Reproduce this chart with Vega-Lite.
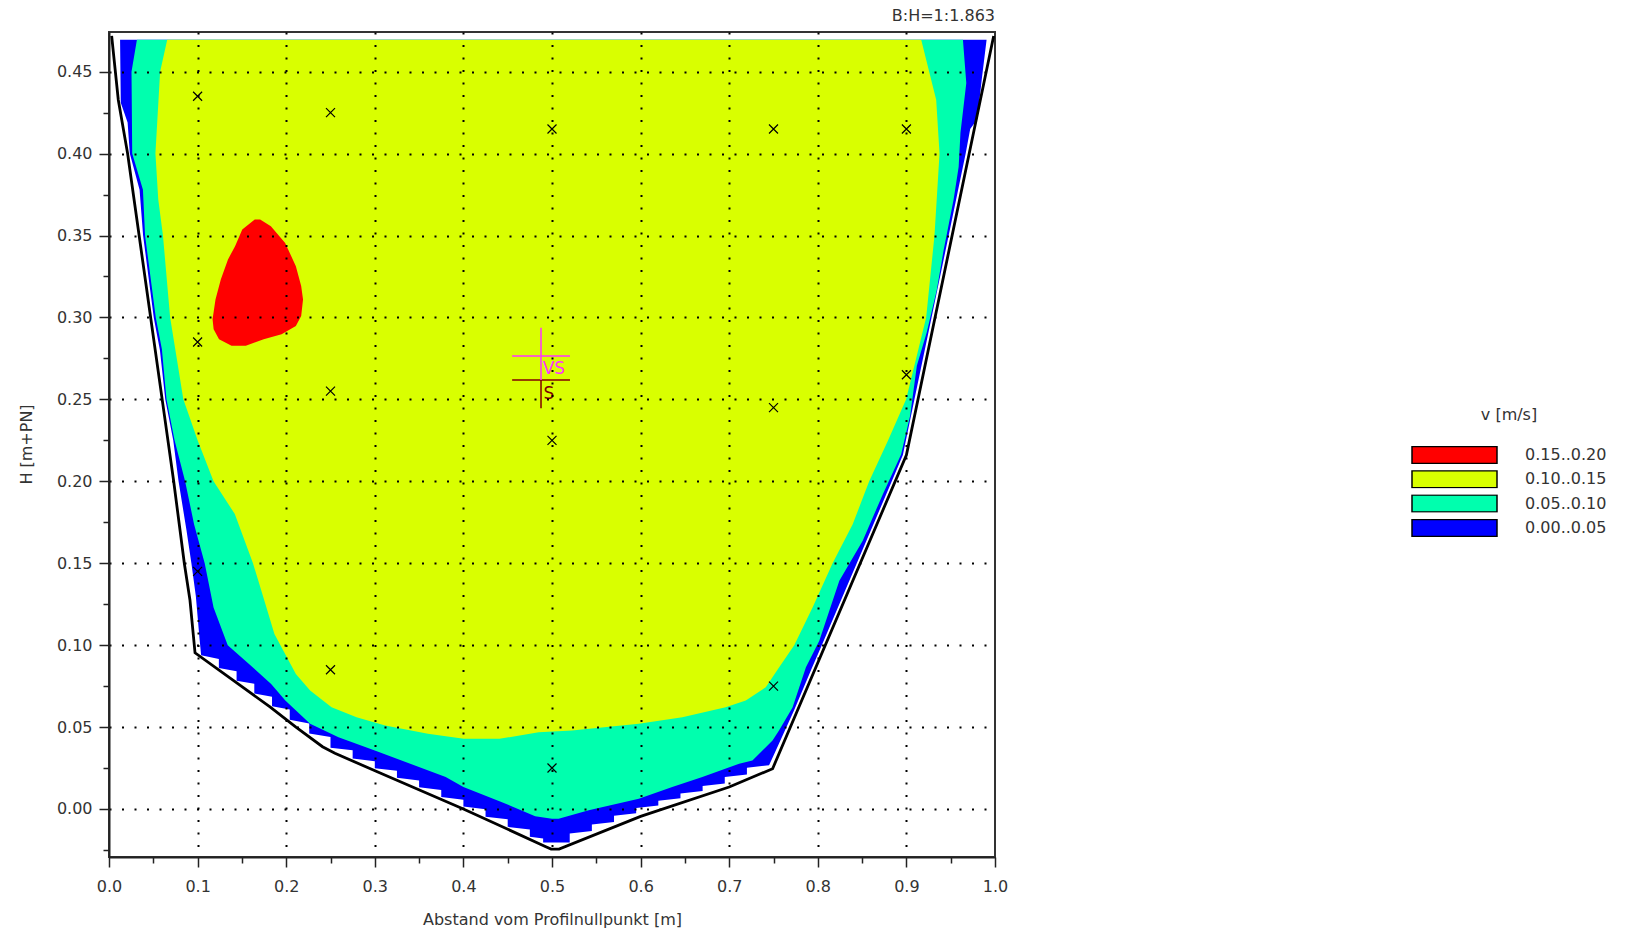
{
  "$schema": "https://vega.github.io/schema/vega-lite/v6.json",
  "width": 886,
  "height": 825,
  "autosize": {"type": "none"},
  "padding": {"left": 109, "top": 32, "right": 634, "bottom": 76},
  "background": "white",
  "title": {"text": "B:H=1:1.863", "anchor": "end", "frame": "group", "font": "DejaVu Sans", "fontSize": 16, "fontWeight": "normal", "color": "#333", "offset": 6},
  "config": {"view": {"stroke": "#333", "strokeWidth": 2}, "font": "DejaVu Sans"},
  "datasets": {
    "zones": [
      {"band": "0.00..0.05", "i": 1, "x": 0.0125, "y": 0.4695},
      {"band": "0.00..0.05", "i": 2, "x": 0.0133, "y": 0.431},
      {"band": "0.00..0.05", "i": 3, "x": 0.021, "y": 0.419},
      {"band": "0.00..0.05", "i": 4, "x": 0.0235, "y": 0.40},
      {"band": "0.00..0.05", "i": 5, "x": 0.0345, "y": 0.378},
      {"band": "0.00..0.05", "i": 6, "x": 0.0385, "y": 0.35},
      {"band": "0.00..0.05", "i": 7, "x": 0.0505, "y": 0.30},
      {"band": "0.00..0.05", "i": 8, "x": 0.0575, "y": 0.28},
      {"band": "0.00..0.05", "i": 9, "x": 0.0635, "y": 0.25},
      {"band": "0.00..0.05", "i": 10, "x": 0.0725, "y": 0.225},
      {"band": "0.00..0.05", "i": 11, "x": 0.0785, "y": 0.20},
      {"band": "0.00..0.05", "i": 12, "x": 0.0875, "y": 0.17},
      {"band": "0.00..0.05", "i": 13, "x": 0.093, "y": 0.15},
      {"band": "0.00..0.05", "i": 14, "x": 0.098, "y": 0.13},
      {"band": "0.00..0.05", "i": 15, "x": 0.102, "y": 0.105},
      {"band": "0.00..0.05", "i": 16, "x": 0.104, "y": 0.0938},
      {"band": "0.00..0.05", "i": 17, "x": 0.124, "y": 0.0915},
      {"band": "0.00..0.05", "i": 18, "x": 0.124, "y": 0.086},
      {"band": "0.00..0.05", "i": 19, "x": 0.144, "y": 0.084},
      {"band": "0.00..0.05", "i": 20, "x": 0.144, "y": 0.0783},
      {"band": "0.00..0.05", "i": 21, "x": 0.164, "y": 0.0765},
      {"band": "0.00..0.05", "i": 22, "x": 0.164, "y": 0.0705},
      {"band": "0.00..0.05", "i": 23, "x": 0.184, "y": 0.0685},
      {"band": "0.00..0.05", "i": 24, "x": 0.184, "y": 0.0627},
      {"band": "0.00..0.05", "i": 25, "x": 0.204, "y": 0.0607},
      {"band": "0.00..0.05", "i": 26, "x": 0.204, "y": 0.0544},
      {"band": "0.00..0.05", "i": 27, "x": 0.226, "y": 0.0522},
      {"band": "0.00..0.05", "i": 28, "x": 0.226, "y": 0.046},
      {"band": "0.00..0.05", "i": 29, "x": 0.25, "y": 0.044},
      {"band": "0.00..0.05", "i": 30, "x": 0.25, "y": 0.0373},
      {"band": "0.00..0.05", "i": 31, "x": 0.275, "y": 0.0358},
      {"band": "0.00..0.05", "i": 32, "x": 0.275, "y": 0.0308},
      {"band": "0.00..0.05", "i": 33, "x": 0.30, "y": 0.0292},
      {"band": "0.00..0.05", "i": 34, "x": 0.30, "y": 0.0249},
      {"band": "0.00..0.05", "i": 35, "x": 0.325, "y": 0.0233},
      {"band": "0.00..0.05", "i": 36, "x": 0.325, "y": 0.019},
      {"band": "0.00..0.05", "i": 37, "x": 0.35, "y": 0.0174},
      {"band": "0.00..0.05", "i": 38, "x": 0.35, "y": 0.0132},
      {"band": "0.00..0.05", "i": 39, "x": 0.375, "y": 0.0116},
      {"band": "0.00..0.05", "i": 40, "x": 0.375, "y": 0.0073},
      {"band": "0.00..0.05", "i": 41, "x": 0.40, "y": 0.0057},
      {"band": "0.00..0.05", "i": 42, "x": 0.40, "y": 0.0015},
      {"band": "0.00..0.05", "i": 43, "x": 0.425, "y": -0.0001},
      {"band": "0.00..0.05", "i": 44, "x": 0.425, "y": -0.0047},
      {"band": "0.00..0.05", "i": 45, "x": 0.45, "y": -0.0063},
      {"band": "0.00..0.05", "i": 46, "x": 0.45, "y": -0.0109},
      {"band": "0.00..0.05", "i": 47, "x": 0.475, "y": -0.0125},
      {"band": "0.00..0.05", "i": 48, "x": 0.475, "y": -0.017},
      {"band": "0.00..0.05", "i": 49, "x": 0.49, "y": -0.018},
      {"band": "0.00..0.05", "i": 50, "x": 0.49, "y": -0.0205},
      {"band": "0.00..0.05", "i": 51, "x": 0.52, "y": -0.0205},
      {"band": "0.00..0.05", "i": 52, "x": 0.52, "y": -0.015},
      {"band": "0.00..0.05", "i": 53, "x": 0.545, "y": -0.0135},
      {"band": "0.00..0.05", "i": 54, "x": 0.545, "y": -0.0095},
      {"band": "0.00..0.05", "i": 55, "x": 0.57, "y": -0.008},
      {"band": "0.00..0.05", "i": 56, "x": 0.57, "y": -0.0041},
      {"band": "0.00..0.05", "i": 57, "x": 0.595, "y": -0.0026},
      {"band": "0.00..0.05", "i": 58, "x": 0.595, "y": 0.0006},
      {"band": "0.00..0.05", "i": 59, "x": 0.62, "y": 0.0021},
      {"band": "0.00..0.05", "i": 60, "x": 0.62, "y": 0.0051},
      {"band": "0.00..0.05", "i": 61, "x": 0.645, "y": 0.0066},
      {"band": "0.00..0.05", "i": 62, "x": 0.645, "y": 0.0095},
      {"band": "0.00..0.05", "i": 63, "x": 0.67, "y": 0.011},
      {"band": "0.00..0.05", "i": 64, "x": 0.67, "y": 0.014},
      {"band": "0.00..0.05", "i": 65, "x": 0.695, "y": 0.0155},
      {"band": "0.00..0.05", "i": 66, "x": 0.695, "y": 0.0195},
      {"band": "0.00..0.05", "i": 67, "x": 0.72, "y": 0.021},
      {"band": "0.00..0.05", "i": 68, "x": 0.72, "y": 0.0252},
      {"band": "0.00..0.05", "i": 69, "x": 0.745, "y": 0.0267},
      {"band": "0.00..0.05", "i": 70, "x": 0.752, "y": 0.035},
      {"band": "0.00..0.05", "i": 71, "x": 0.773, "y": 0.06},
      {"band": "0.00..0.05", "i": 72, "x": 0.7925, "y": 0.085},
      {"band": "0.00..0.05", "i": 73, "x": 0.8045, "y": 0.10},
      {"band": "0.00..0.05", "i": 74, "x": 0.844, "y": 0.15},
      {"band": "0.00..0.05", "i": 75, "x": 0.8835, "y": 0.20},
      {"band": "0.00..0.05", "i": 76, "x": 0.896, "y": 0.216},
      {"band": "0.00..0.05", "i": 77, "x": 0.9091, "y": 0.25},
      {"band": "0.00..0.05", "i": 78, "x": 0.9284, "y": 0.30},
      {"band": "0.00..0.05", "i": 79, "x": 0.9477, "y": 0.35},
      {"band": "0.00..0.05", "i": 80, "x": 0.9669, "y": 0.40},
      {"band": "0.00..0.05", "i": 81, "x": 0.972, "y": 0.415},
      {"band": "0.00..0.05", "i": 82, "x": 0.98, "y": 0.421},
      {"band": "0.00..0.05", "i": 83, "x": 0.985, "y": 0.445},
      {"band": "0.00..0.05", "i": 84, "x": 0.9905, "y": 0.4695},

      {"band": "0.05..0.10", "i": 1, "x": 0.0315, "y": 0.4695},
      {"band": "0.05..0.10", "i": 2, "x": 0.0254, "y": 0.45},
      {"band": "0.05..0.10", "i": 3, "x": 0.0262, "y": 0.40},
      {"band": "0.05..0.10", "i": 4, "x": 0.0383, "y": 0.378},
      {"band": "0.05..0.10", "i": 5, "x": 0.0407, "y": 0.35},
      {"band": "0.05..0.10", "i": 6, "x": 0.0528, "y": 0.30},
      {"band": "0.05..0.10", "i": 7, "x": 0.0597, "y": 0.2806},
      {"band": "0.05..0.10", "i": 8, "x": 0.0649, "y": 0.25},
      {"band": "0.05..0.10", "i": 9, "x": 0.074, "y": 0.225},
      {"band": "0.05..0.10", "i": 10, "x": 0.0859, "y": 0.20},
      {"band": "0.05..0.10", "i": 11, "x": 0.096, "y": 0.1738},
      {"band": "0.05..0.10", "i": 12, "x": 0.108, "y": 0.15},
      {"band": "0.05..0.10", "i": 13, "x": 0.118, "y": 0.123},
      {"band": "0.05..0.10", "i": 14, "x": 0.134, "y": 0.10},
      {"band": "0.05..0.10", "i": 15, "x": 0.158, "y": 0.0885},
      {"band": "0.05..0.10", "i": 16, "x": 0.183, "y": 0.0763},
      {"band": "0.05..0.10", "i": 17, "x": 0.199, "y": 0.0662},
      {"band": "0.05..0.10", "i": 18, "x": 0.227, "y": 0.052},
      {"band": "0.05..0.10", "i": 19, "x": 0.259, "y": 0.0438},
      {"band": "0.05..0.10", "i": 20, "x": 0.30, "y": 0.0357},
      {"band": "0.05..0.10", "i": 21, "x": 0.34, "y": 0.0276},
      {"band": "0.05..0.10", "i": 22, "x": 0.38, "y": 0.0195},
      {"band": "0.05..0.10", "i": 23, "x": 0.40, "y": 0.0134},
      {"band": "0.05..0.10", "i": 24, "x": 0.4407, "y": 0.0048},
      {"band": "0.05..0.10", "i": 25, "x": 0.481, "y": -0.0044},
      {"band": "0.05..0.10", "i": 26, "x": 0.50, "y": -0.006},
      {"band": "0.05..0.10", "i": 27, "x": 0.5075, "y": -0.0059},
      {"band": "0.05..0.10", "i": 28, "x": 0.5415, "y": -0.0008},
      {"band": "0.05..0.10", "i": 29, "x": 0.598, "y": 0.0063},
      {"band": "0.05..0.10", "i": 30, "x": 0.6357, "y": 0.0134},
      {"band": "0.05..0.10", "i": 31, "x": 0.6697, "y": 0.0195},
      {"band": "0.05..0.10", "i": 32, "x": 0.7112, "y": 0.0276},
      {"band": "0.05..0.10", "i": 33, "x": 0.7262, "y": 0.0296},
      {"band": "0.05..0.10", "i": 34, "x": 0.7489, "y": 0.0418},
      {"band": "0.05..0.10", "i": 35, "x": 0.7564, "y": 0.048},
      {"band": "0.05..0.10", "i": 36, "x": 0.7715, "y": 0.062},
      {"band": "0.05..0.10", "i": 37, "x": 0.7866, "y": 0.0865},
      {"band": "0.05..0.10", "i": 38, "x": 0.8017, "y": 0.1027},
      {"band": "0.05..0.10", "i": 39, "x": 0.8243, "y": 0.1393},
      {"band": "0.05..0.10", "i": 40, "x": 0.8507, "y": 0.1637},
      {"band": "0.05..0.10", "i": 41, "x": 0.8733, "y": 0.192},
      {"band": "0.05..0.10", "i": 42, "x": 0.894, "y": 0.2164},
      {"band": "0.05..0.10", "i": 43, "x": 0.9042, "y": 0.24},
      {"band": "0.05..0.10", "i": 44, "x": 0.9118, "y": 0.2705},
      {"band": "0.05..0.10", "i": 45, "x": 0.923, "y": 0.291},
      {"band": "0.05..0.10", "i": 46, "x": 0.9344, "y": 0.317},
      {"band": "0.05..0.10", "i": 47, "x": 0.942, "y": 0.341},
      {"band": "0.05..0.10", "i": 48, "x": 0.9533, "y": 0.372},
      {"band": "0.05..0.10", "i": 49, "x": 0.959, "y": 0.392},
      {"band": "0.05..0.10", "i": 50, "x": 0.961, "y": 0.4125},
      {"band": "0.05..0.10", "i": 51, "x": 0.9676, "y": 0.443},
      {"band": "0.05..0.10", "i": 52, "x": 0.9638, "y": 0.4695},

      {"band": "0.10..0.15", "i": 1, "x": 0.0657, "y": 0.4695},
      {"band": "0.10..0.15", "i": 2, "x": 0.0577, "y": 0.45},
      {"band": "0.10..0.15", "i": 3, "x": 0.0524, "y": 0.40},
      {"band": "0.10..0.15", "i": 4, "x": 0.0556, "y": 0.372},
      {"band": "0.10..0.15", "i": 5, "x": 0.0609, "y": 0.35},
      {"band": "0.10..0.15", "i": 6, "x": 0.069, "y": 0.30},
      {"band": "0.10..0.15", "i": 7, "x": 0.0778, "y": 0.2705},
      {"band": "0.10..0.15", "i": 8, "x": 0.0839, "y": 0.25},
      {"band": "0.10..0.15", "i": 9, "x": 0.10, "y": 0.225},
      {"band": "0.10..0.15", "i": 10, "x": 0.118, "y": 0.20},
      {"band": "0.10..0.15", "i": 11, "x": 0.142, "y": 0.18},
      {"band": "0.10..0.15", "i": 12, "x": 0.1625, "y": 0.15},
      {"band": "0.10..0.15", "i": 13, "x": 0.1766, "y": 0.125},
      {"band": "0.10..0.15", "i": 14, "x": 0.1867, "y": 0.1068},
      {"band": "0.10..0.15", "i": 15, "x": 0.1988, "y": 0.0946},
      {"band": "0.10..0.15", "i": 16, "x": 0.2109, "y": 0.0824},
      {"band": "0.10..0.15", "i": 17, "x": 0.227, "y": 0.0723},
      {"band": "0.10..0.15", "i": 18, "x": 0.2512, "y": 0.0621},
      {"band": "0.10..0.15", "i": 19, "x": 0.2794, "y": 0.056},
      {"band": "0.10..0.15", "i": 20, "x": 0.3117, "y": 0.051},
      {"band": "0.10..0.15", "i": 21, "x": 0.36, "y": 0.0459},
      {"band": "0.10..0.15", "i": 22, "x": 0.4004, "y": 0.0428},
      {"band": "0.10..0.15", "i": 23, "x": 0.4407, "y": 0.0428},
      {"band": "0.10..0.15", "i": 24, "x": 0.4849, "y": 0.0469},
      {"band": "0.10..0.15", "i": 25, "x": 0.5226, "y": 0.0479},
      {"band": "0.10..0.15", "i": 26, "x": 0.598, "y": 0.052},
      {"band": "0.10..0.15", "i": 27, "x": 0.6471, "y": 0.056},
      {"band": "0.10..0.15", "i": 28, "x": 0.696, "y": 0.0621},
      {"band": "0.10..0.15", "i": 29, "x": 0.7187, "y": 0.0662},
      {"band": "0.10..0.15", "i": 30, "x": 0.7413, "y": 0.0743},
      {"band": "0.10..0.15", "i": 31, "x": 0.7564, "y": 0.0865},
      {"band": "0.10..0.15", "i": 32, "x": 0.7734, "y": 0.10},
      {"band": "0.10..0.15", "i": 33, "x": 0.7941, "y": 0.123},
      {"band": "0.10..0.15", "i": 34, "x": 0.8167, "y": 0.15},
      {"band": "0.10..0.15", "i": 35, "x": 0.8394, "y": 0.1738},
      {"band": "0.10..0.15", "i": 36, "x": 0.858, "y": 0.20},
      {"band": "0.10..0.15", "i": 37, "x": 0.879, "y": 0.2246},
      {"band": "0.10..0.15", "i": 38, "x": 0.8997, "y": 0.25},
      {"band": "0.10..0.15", "i": 39, "x": 0.9223, "y": 0.30},
      {"band": "0.10..0.15", "i": 40, "x": 0.9317, "y": 0.35},
      {"band": "0.10..0.15", "i": 41, "x": 0.9374, "y": 0.40},
      {"band": "0.10..0.15", "i": 42, "x": 0.9336, "y": 0.4328},
      {"band": "0.10..0.15", "i": 43, "x": 0.9167, "y": 0.4695},

      {"band": "0.15..0.20", "i": 1, "x": 0.1645, "y": 0.3597},
      {"band": "0.15..0.20", "i": 2, "x": 0.1504, "y": 0.3536},
      {"band": "0.15..0.20", "i": 3, "x": 0.1423, "y": 0.3435},
      {"band": "0.15..0.20", "i": 4, "x": 0.1343, "y": 0.3354},
      {"band": "0.15..0.20", "i": 5, "x": 0.1262, "y": 0.3232},
      {"band": "0.15..0.20", "i": 6, "x": 0.1202, "y": 0.311},
      {"band": "0.15..0.20", "i": 7, "x": 0.1169, "y": 0.2989},
      {"band": "0.15..0.20", "i": 8, "x": 0.1181, "y": 0.2928},
      {"band": "0.15..0.20", "i": 9, "x": 0.1242, "y": 0.2867},
      {"band": "0.15..0.20", "i": 10, "x": 0.1383, "y": 0.2827},
      {"band": "0.15..0.20", "i": 11, "x": 0.1544, "y": 0.2827},
      {"band": "0.15..0.20", "i": 12, "x": 0.1746, "y": 0.2867},
      {"band": "0.15..0.20", "i": 13, "x": 0.1948, "y": 0.2898},
      {"band": "0.15..0.20", "i": 14, "x": 0.2109, "y": 0.2948},
      {"band": "0.15..0.20", "i": 15, "x": 0.2169, "y": 0.3009},
      {"band": "0.15..0.20", "i": 16, "x": 0.219, "y": 0.311},
      {"band": "0.15..0.20", "i": 17, "x": 0.2169, "y": 0.3192},
      {"band": "0.15..0.20", "i": 18, "x": 0.2109, "y": 0.3313},
      {"band": "0.15..0.20", "i": 19, "x": 0.1988, "y": 0.3455},
      {"band": "0.15..0.20", "i": 20, "x": 0.1827, "y": 0.3557},
      {"band": "0.15..0.20", "i": 21, "x": 0.1706, "y": 0.3597}
    ],
    "bed": [
      {"i": 1, "x": 0.003, "y": 0.4718},
      {"i": 2, "x": 0.0105, "y": 0.4327},
      {"i": 3, "x": 0.021, "y": 0.40},
      {"i": 4, "x": 0.034, "y": 0.35},
      {"i": 5, "x": 0.047, "y": 0.30},
      {"i": 6, "x": 0.06, "y": 0.25},
      {"i": 7, "x": 0.073, "y": 0.20},
      {"i": 8, "x": 0.085, "y": 0.15},
      {"i": 9, "x": 0.0914, "y": 0.1274},
      {"i": 10, "x": 0.0971, "y": 0.0953},
      {"i": 11, "x": 0.1817, "y": 0.0623},
      {"i": 12, "x": 0.211, "y": 0.05},
      {"i": 13, "x": 0.241, "y": 0.038},
      {"i": 14, "x": 0.255, "y": 0.034},
      {"i": 15, "x": 0.308, "y": 0.0215},
      {"i": 16, "x": 0.40, "y": 0.0},
      {"i": 17, "x": 0.493, "y": -0.023},
      {"i": 18, "x": 0.499, "y": -0.0245},
      {"i": 19, "x": 0.508, "y": -0.0245},
      {"i": 20, "x": 0.60, "y": -0.0045},
      {"i": 21, "x": 0.70, "y": 0.0134},
      {"i": 22, "x": 0.749, "y": 0.0246},
      {"i": 23, "x": 0.90, "y": 0.216},
      {"i": 24, "x": 0.9985, "y": 0.4718}
    ],
    "probes": [
      {"x": 0.10, "y": 0.435}, {"x": 0.25, "y": 0.425}, {"x": 0.50, "y": 0.415}, {"x": 0.75, "y": 0.415}, {"x": 0.90, "y": 0.415},
      {"x": 0.10, "y": 0.285}, {"x": 0.25, "y": 0.255}, {"x": 0.50, "y": 0.225}, {"x": 0.75, "y": 0.245}, {"x": 0.90, "y": 0.265},
      {"x": 0.10, "y": 0.145}, {"x": 0.25, "y": 0.085}, {"x": 0.50, "y": 0.025}, {"x": 0.75, "y": 0.075}
    ],
    "cross": [
      {"m": "S", "x": 0.455, "x2": 0.5203, "y": 0.2618, "y2": 0.2618},
      {"m": "S", "x": 0.4876, "x2": 0.4876, "y": 0.2618, "y2": 0.2445},
      {"m": "VS", "x": 0.455, "x2": 0.5203, "y": 0.2764, "y2": 0.2764},
      {"m": "VS", "x": 0.4876, "x2": 0.4876, "y": 0.2937, "y2": 0.2618}
    ],
    "tags": [
      {"m": "VS", "x": 0.4895, "y": 0.2685},
      {"m": "S", "x": 0.4905, "y": 0.2535}
    ]
  },
  "encoding": {
    "x": {
      "field": "x", "type": "quantitative",
      "scale": {"domain": [0, 1], "nice": false, "zero": false},
      "axis": {
        "values": [0, 0.05, 0.1, 0.15, 0.2, 0.25, 0.3, 0.35, 0.4, 0.45, 0.5, 0.55, 0.6, 0.65, 0.7, 0.75, 0.8, 0.85, 0.9, 0.95, 1],
        "labelExpr": "round(datum.value * 20) % 2 == 0 ? format(datum.value, '.1f') : ''",
        "labelFont": "DejaVu Sans", "labelFontSize": 16, "labelColor": "#333", "labelPadding": 11,
        "labelOverlap": false, "labelFlush": false, "labelBound": false,
        "tickColor": "#222", "tickWidth": 1.5,
        "tickSize": {"condition": {"test": "round(datum.value * 20) % 2 != 0", "value": 6}, "value": 10},
        "domainColor": "#222", "domainWidth": 2,
        "grid": true, "gridColor": "#000", "gridWidth": 2, "gridDash": [2, 10.5],
        "gridOpacity": {"condition": {"test": "round(datum.value * 20) % 2 != 0 || datum.value < 0.01 || datum.value > 0.99", "value": 0}, "value": 1},
        "title": "Abstand vom Profilnullpunkt [m]",
        "titleFont": "DejaVu Sans", "titleFontSize": 16, "titleFontWeight": "normal", "titleColor": "#333",
        "titleY": 62, "titleBaseline": "middle",
        "zindex": 1
      }
    },
    "y": {
      "field": "y", "type": "quantitative",
      "scale": {"domain": [-0.0293, 0.4742], "nice": false, "zero": false},
      "axis": {
        "values": [-0.025, 0, 0.025, 0.05, 0.075, 0.1, 0.125, 0.15, 0.175, 0.2, 0.225, 0.25, 0.275, 0.3, 0.325, 0.35, 0.375, 0.4, 0.425, 0.45],
        "labelExpr": "round(datum.value * 40) % 2 == 0 ? format(datum.value, '.2f') : ''",
        "labelFont": "DejaVu Sans", "labelFontSize": 16, "labelColor": "#333", "labelPadding": 7,
        "labelOverlap": false, "labelFlush": false, "labelBound": false,
        "tickColor": "#222", "tickWidth": 1.5,
        "tickSize": {"condition": {"test": "round(datum.value * 40) % 2 != 0", "value": 6}, "value": 10},
        "domainColor": "#222", "domainWidth": 2,
        "grid": true, "gridColor": "#000", "gridWidth": 2, "gridDash": [2, 10.5],
        "gridOpacity": {"condition": {"test": "round(datum.value * 40) % 2 != 0", "value": 0}, "value": 1},
        "title": "H [m+PN]",
        "titleFont": "DejaVu Sans", "titleFontSize": 16, "titleFontWeight": "normal", "titleColor": "#333",
        "titleX": -83, "titleY": 412, "titleAngle": -90, "titleAlign": "center", "titleBaseline": "middle",
        "zindex": 1
      }
    }
  },
  "layer": [
    {
      "data": {"name": "zones"},
      "encoding": {
        "order": {"field": "i", "type": "quantitative"},
        "fill": {
          "field": "band", "type": "nominal",
          "scale": {"domain": ["0.15..0.20", "0.10..0.15", "0.05..0.10", "0.00..0.05"], "range": ["#ff0000", "#d9ff00", "#00ffae", "#0000ff"]},
          "legend": {
            "orient": "none", "legendX": 1302, "legendY": 375,
            "title": "v [m/s]", "titleFont": "DejaVu Sans", "titleFontSize": 16, "titleFontWeight": "normal", "titleColor": "#333",
            "titleAnchor": "middle", "titlePadding": 23,
            "symbolType": "M-1,-0.2H1V0.2H-1Z", "symbolSize": 7225,
            "symbolStrokeColor": "#000", "symbolStrokeWidth": 1.5, "symbolOpacity": 1,
            "clipHeight": 18,
            "labelFont": "DejaVu Sans", "labelFontSize": 16, "labelColor": "#333", "labelOffset": 27,
            "rowPadding": 6.3
          }
        }
      },
      "layer": [
        {"transform": [{"filter": "datum.band == '0.00..0.05'"}], "mark": {"type": "line", "strokeWidth": 0}},
        {"transform": [{"filter": "datum.band == '0.05..0.10'"}], "mark": {"type": "line", "strokeWidth": 0}},
        {"transform": [{"filter": "datum.band == '0.10..0.15'"}], "mark": {"type": "line", "strokeWidth": 0}},
        {"transform": [{"filter": "datum.band == '0.15..0.20'"}], "mark": {"type": "line", "strokeWidth": 0}}
      ]
    },
    {
      "data": {"name": "bed"},
      "mark": {"type": "line", "color": "#000", "strokeWidth": 2.8, "strokeJoin": "miter"},
      "encoding": {"order": {"field": "i", "type": "quantitative"}}
    },
    {
      "data": {"name": "probes"},
      "mark": {"type": "point", "shape": "M-1,-1L1,1M-1,1L1,-1", "filled": false, "stroke": "#000", "strokeWidth": 1.2, "size": 81, "opacity": 1}
    },
    {
      "data": {"name": "cross"},
      "transform": [{"filter": "datum.m == 'S'"}],
      "mark": {"type": "rule", "color": "#800000", "strokeWidth": 1.5},
      "encoding": {"x2": {"field": "x2"}, "y2": {"field": "y2"}}
    },
    {
      "data": {"name": "cross"},
      "transform": [{"filter": "datum.m == 'VS'"}],
      "mark": {"type": "rule", "color": "#ff33ff", "strokeWidth": 1.5},
      "encoding": {"x2": {"field": "x2"}, "y2": {"field": "y2"}}
    },
    {
      "data": {"name": "tags"},
      "transform": [{"filter": "datum.m == 'VS'"}],
      "mark": {"type": "text", "align": "left", "baseline": "middle", "font": "DejaVu Sans", "fontSize": 17, "color": "#ff33ff"},
      "encoding": {"text": {"field": "m"}}
    },
    {
      "data": {"name": "tags"},
      "transform": [{"filter": "datum.m == 'S'"}],
      "mark": {"type": "text", "align": "left", "baseline": "middle", "font": "DejaVu Sans", "fontSize": 17, "color": "#800000"},
      "encoding": {"text": {"field": "m"}}
    }
  ]
}
